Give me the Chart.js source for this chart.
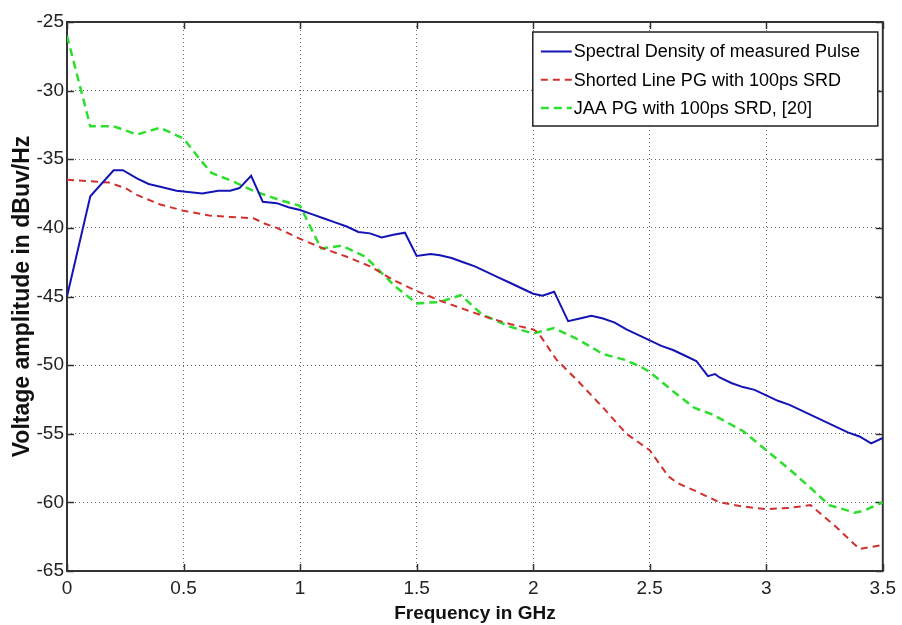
<!DOCTYPE html>
<html><head><meta charset="utf-8">
<script src="https://cdn.jsdelivr.net/npm/chart.js@4/dist/chart.umd.min.js"></script>
<style>html,body{margin:0;padding:0;background:#fff;}#wrap{width:902px;height:625px;}</style>
</head><body><div id="wrap"><canvas id="c" width="902" height="625"></canvas></div>
<script>
// ---- data (frequency in GHz, amplitude in dBuV/Hz) ----
const measuredFreq = [0,0.1,0.2,0.24,0.3,0.35,0.4,0.47,0.58,0.65,0.7,0.74,0.79,0.84,0.9,0.95,1.0,1.05,1.1,1.15,1.2,1.25,1.3,1.35,1.4,1.45,1.5,1.56,1.6,1.65,1.7,1.75,1.8,1.85,1.9,1.95,2.0,2.04,2.09,2.15,2.2,2.25,2.3,2.35,2.4,2.45,2.5,2.55,2.6,2.65,2.7,2.75,2.78,2.8,2.85,2.9,2.95,3.0,3.05,3.1,3.15,3.2,3.25,3.3,3.35,3.4,3.45,3.5];
const measuredAmp  = [-45,-37.7,-35.8,-35.8,-36.4,-36.8,-37.0,-37.3,-37.5,-37.3,-37.3,-37.1,-36.2,-38.1,-38.2,-38.5,-38.7,-39.0,-39.3,-39.6,-39.9,-40.3,-40.4,-40.7,-40.5,-40.35,-42.05,-41.9,-42.0,-42.2,-42.5,-42.8,-43.2,-43.6,-44.0,-44.4,-44.8,-44.95,-44.65,-46.8,-46.6,-46.4,-46.6,-46.9,-47.4,-47.8,-48.2,-48.6,-48.9,-49.3,-49.7,-50.8,-50.65,-50.9,-51.3,-51.6,-51.8,-52.2,-52.6,-52.9,-53.3,-53.7,-54.1,-54.5,-54.9,-55.2,-55.7,-55.3];

const shortedFreq = [0,0.1,0.18,0.25,0.3,0.4,0.5,0.61,0.7,0.8,0.85,0.9,1.0,1.1,1.2,1.3,1.4,1.5,1.6,1.7,1.8,1.9,2.0,2.02,2.1,2.2,2.3,2.4,2.5,2.58,2.62,2.7,2.8,2.9,3.0,3.1,3.19,3.3,3.4,3.5];
const shortedAmp  = [-36.5,-36.6,-36.7,-37.1,-37.6,-38.3,-38.75,-39.1,-39.2,-39.3,-39.7,-40.0,-40.8,-41.5,-42.1,-42.8,-43.8,-44.6,-45.3,-45.9,-46.5,-47.0,-47.4,-47.6,-49.6,-51.3,-53.1,-55.0,-56.2,-58.1,-58.6,-59.2,-60.0,-60.3,-60.5,-60.4,-60.2,-61.8,-63.4,-63.1];

const jaaFreq = [0,0.1,0.2,0.3,0.4,0.5,0.57,0.62,0.71,0.8,0.9,1.0,1.09,1.18,1.28,1.41,1.5,1.6,1.69,1.78,1.9,2.0,2.09,2.2,2.3,2.39,2.46,2.5,2.6,2.69,2.77,2.9,3.0,3.1,3.2,3.27,3.38,3.42,3.5];
const jaaAmp  = [-26.0,-32.6,-32.6,-33.2,-32.7,-33.5,-35.0,-36.0,-36.6,-37.3,-37.9,-38.4,-41.5,-41.3,-42.1,-44.3,-45.5,-45.4,-44.9,-46.3,-47.2,-47.7,-47.3,-48.2,-49.2,-49.6,-50.1,-50.5,-51.9,-53.1,-53.6,-54.8,-56.2,-57.6,-59.1,-60.2,-60.75,-60.6,-60.0];

const seriesNames = ['Spectral Density of measured Pulse','Shorted Line PG with 100ps SRD','JAA PG with 100ps SRD, [20]'];
const xTickValues = [0,0.5,1,1.5,2,2.5,3,3.5];
const xTickLabels = ['0','0.5','1','1.5','2','2.5','3','3.5'];
const yTickValues = [-65,-60,-55,-50,-45,-40,-35,-30,-25];
const yTickLabels = ['-65','-60','-55','-50','-45','-40','-35','-30','-25'];
const xTitle = 'Frequency in GHz';
const yTitle = 'Voltage amplitude in dBuv/Hz';

const pts = (xs, ys) => xs.map((x, i) => ({x: x, y: ys[i]}));

const FONT = '"Liberation Sans", Arial, Helvetica, sans-serif';

const framePlugin = {
  id: 'frame',
  beforeDatasetsDraw(chart) {
    const {ctx, chartArea: a, scales} = chart;
    ctx.save();
    ctx.strokeStyle = '#333';
    ctx.lineWidth = 1.5;
    ctx.beginPath();
    xTickValues.forEach(v => {
      const px = Math.round(scales.x.getPixelForValue(v)) + 0.5;
      ctx.moveTo(px, a.bottom); ctx.lineTo(px, a.bottom - 7);
      ctx.moveTo(px, a.top); ctx.lineTo(px, a.top + 7);
    });
    yTickValues.forEach(v => {
      const py = Math.round(scales.y.getPixelForValue(v)) + 0.5;
      ctx.moveTo(a.left, py); ctx.lineTo(a.left + 7, py);
      ctx.moveTo(a.right, py); ctx.lineTo(a.right - 7, py);
    });
    ctx.stroke();
    ctx.lineWidth = 2;
    ctx.strokeRect(a.left, a.top, a.right - a.left, a.bottom - a.top);
    ctx.restore();
  }
};

const legendPlugin = {
  id: 'boxLegend',
  afterDatasetsDraw(chart) {
    const {ctx, chartArea: a} = chart;
    const right = a.right - 5, left = right - 345, top = a.top + 10, bottom = top + 94;
    ctx.save();
    ctx.fillStyle = '#fff';
    ctx.fillRect(left, top, right - left, bottom - top);
    ctx.strokeStyle = '#222';
    ctx.lineWidth = 1.5;
    ctx.strokeRect(left, top, right - left, bottom - top);
    ctx.font = '18px ' + FONT;
    ctx.textBaseline = 'middle';
    ctx.fillStyle = '#000';
    chart.data.datasets.forEach((ds, i) => {
      const y = top + 19.5 + i * 28.3;
      ctx.strokeStyle = ds.borderColor;
      ctx.lineWidth = ds.borderWidth;
      ctx.setLineDash(ds.borderDash || []);
      ctx.beginPath();
      ctx.moveTo(left + 8, y); ctx.lineTo(left + 39, y);
      ctx.stroke();
      ctx.setLineDash([]);
      ctx.fillText(ds.label, left + 41, y + 1);
    });
    ctx.restore();
  }
};

new Chart(document.getElementById('c'), {
  type: 'line',
  data: {
    datasets: [
      {label: seriesNames[0], data: pts(measuredFreq, measuredAmp), borderColor: '#1414b4', borderWidth: 2, pointRadius: 0, tension: 0, fill: false},
      {label: seriesNames[1], data: pts(shortedFreq, shortedAmp), borderColor: '#d0302e', borderWidth: 2, borderDash: [7, 5], pointRadius: 0, tension: 0, fill: false},
      {label: seriesNames[2], data: pts(jaaFreq, jaaAmp), borderColor: '#2ede2e', borderWidth: 2.5, borderDash: [8, 5], pointRadius: 0, tension: 0, fill: false}
    ]
  },
  options: {
    responsive: false,
    animation: false,
    devicePixelRatio: 1,
    layout: {padding: {left: 0, right: 15, top: 22, bottom: 0}},
    plugins: {legend: {display: false}, tooltip: {enabled: false}},
    scales: {
      x: {
        type: 'linear', min: 0, max: 3.5,
        afterBuildTicks(s) { s.ticks = xTickValues.map(v => ({value: v})); },
        afterFit(s) { s.height = 54; },
        ticks: {
          callback: (v) => xTickLabels[xTickValues.indexOf(v)],
          font: {family: FONT, size: 19}, color: '#222', padding: 6, maxRotation: 0, autoSkip: false
        },
        grid: {color: '#666', lineWidth: 1, drawTicks: false},
        border: {display: false, dash: [1, 3]},
        title: {display: true, text: xTitle, font: {family: FONT, size: 19, weight: 'bold'}, color: '#111', padding: {top: 0, bottom: 0}}
      },
      y: {
        type: 'linear', min: -65, max: -25,
        afterBuildTicks(s) { s.ticks = yTickValues.map(v => ({value: v})); },
        afterFit(s) { s.width = 67; },
        ticks: {
          callback: (v) => yTickLabels[yTickValues.indexOf(v)],
          font: {family: FONT, size: 19}, color: '#222', padding: 3, autoSkip: false
        },
        grid: {color: '#666', lineWidth: 1, drawTicks: false},
        border: {display: false, dash: [1, 3]},
        title: {display: true, text: yTitle, font: {family: FONT, size: 23, weight: 'bold'}, color: '#111', padding: {top: 9, bottom: 0}}
      }
    }
  },
  plugins: [framePlugin, legendPlugin]
});
</script>
</body></html>
